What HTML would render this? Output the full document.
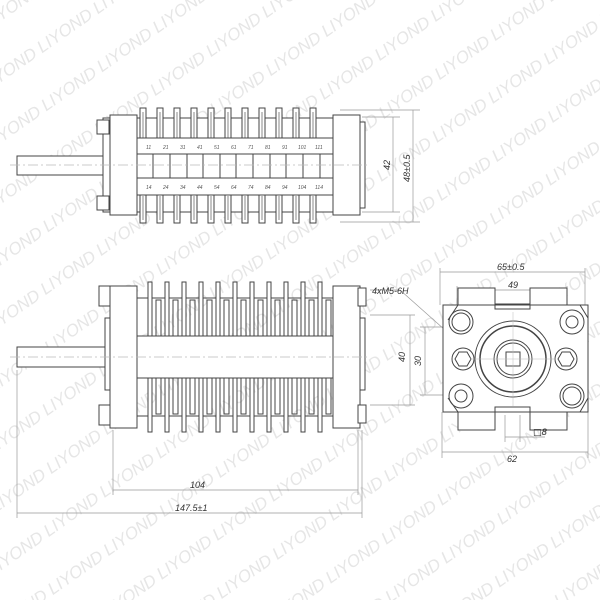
<!DOCTYPE html>
<html><head><meta charset="utf-8"><style>
html,body{margin:0;padding:0;background:#fff;width:600px;height:600px;overflow:hidden;}
svg{display:block;overflow:hidden;}
text{font-family:"Liberation Sans",sans-serif;font-style:italic;}
</style></head><body>
<svg width="600" height="600" viewBox="0 0 600 600" xmlns="http://www.w3.org/2000/svg">
<defs>
<clipPath id="pg"><rect x="0" y="0" width="600" height="600"/></clipPath>
<g id="finT" fill="none" stroke="#444" stroke-width="1">
<rect x="-3" y="108" width="6" height="32" fill="#fff"/>
<line x1="0" y1="112" x2="0" y2="138" stroke="#888"/>
</g>
<g id="finB" fill="none" stroke="#444" stroke-width="1">
<rect x="-3" y="193" width="6" height="30" fill="#fff"/>
<line x1="0" y1="196" x2="0" y2="220" stroke="#888"/>
</g>
<g id="finT2" fill="none" stroke="#444" stroke-width="1">
<rect x="-2" y="282" width="4" height="54" fill="#fff"/>
<path d="M6 336V300H11V336"/>
</g>
<g id="finB2" fill="none" stroke="#444" stroke-width="1">
<rect x="-2" y="378" width="4" height="54" fill="#fff"/>
<path d="M6 378V414H11V378"/>
</g>
<text id="wm" font-size="17" font-style="normal">LIYOND LIYOND LIYOND LIYOND LIYOND LIYOND LIYOND LIYOND LIYOND LIYOND LIYOND LIYOND LIYOND LIYOND LIYOND LIYOND LIYOND LIYOND LIYOND LIYOND LIYOND LIYOND</text>
</defs>

<!-- watermark -->
<g clip-path="url(#pg)">
<g fill="#e6e6e6" transform="rotate(-35 300 300)">
<use href="#wm" x="-450" y="-250"/><use href="#wm" x="-480" y="-200"/><use href="#wm" x="-450" y="-150"/><use href="#wm" x="-480" y="-100"/>
<use href="#wm" x="-450" y="-50"/><use href="#wm" x="-480" y="0"/><use href="#wm" x="-450" y="50"/><use href="#wm" x="-480" y="100"/>
<use href="#wm" x="-450" y="150"/><use href="#wm" x="-480" y="200"/><use href="#wm" x="-450" y="250"/><use href="#wm" x="-480" y="300"/>
<use href="#wm" x="-450" y="350"/><use href="#wm" x="-480" y="400"/><use href="#wm" x="-450" y="450"/><use href="#wm" x="-480" y="500"/>
<use href="#wm" x="-450" y="550"/><use href="#wm" x="-480" y="600"/><use href="#wm" x="-450" y="650"/><use href="#wm" x="-480" y="700"/>
<use href="#wm" x="-450" y="750"/><use href="#wm" x="-480" y="800"/><use href="#wm" x="-450" y="850"/>
</g>
</g>

<g fill="none" stroke="#444" stroke-width="1">
<!-- TOP VIEW -->
<rect x="17" y="156" width="86" height="19" fill="#fff"/>
<rect x="103" y="118" width="7" height="94" fill="#fff"/>
<rect x="97" y="120" width="12" height="14" fill="#fff"/><rect x="97" y="196" width="12" height="14" fill="#fff"/>
<rect x="110" y="115" width="27" height="100" fill="#fff"/>
<rect x="137" y="118" width="196" height="94" fill="#fff"/>
<use href="#finT" x="143"/><use href="#finT" x="160"/><use href="#finT" x="177"/><use href="#finT" x="194"/><use href="#finT" x="211"/><use href="#finT" x="228"/><use href="#finT" x="245"/><use href="#finT" x="262"/><use href="#finT" x="279"/><use href="#finT" x="296"/><use href="#finT" x="313"/>
<use href="#finB" x="143"/><use href="#finB" x="160"/><use href="#finB" x="177"/><use href="#finB" x="194"/><use href="#finB" x="211"/><use href="#finB" x="228"/><use href="#finB" x="245"/><use href="#finB" x="262"/><use href="#finB" x="279"/><use href="#finB" x="296"/><use href="#finB" x="313"/>
<rect x="137" y="138" width="196" height="16" fill="#fff"/>
<rect x="137" y="154" width="196" height="24" fill="#fff"/>
<rect x="137" y="178" width="196" height="17" fill="#fff"/>
<path d="M153 154V178M170 154V178M187 154V178M203 154V178M220 154V178M236 154V178M253 154V178M270 154V178M286 154V178M303 154V178M320 154V178"/>
<rect x="333" y="115" width="27" height="100" fill="#fff"/>
<rect x="360" y="122" width="5" height="86" fill="#fff"/>
<g stroke="#999" stroke-width="0.7">
<line x1="362" y1="117" x2="400" y2="117"/><line x1="362" y1="212" x2="400" y2="212"/>
<line x1="340" y1="110" x2="420" y2="110"/><line x1="340" y1="222" x2="420" y2="222"/>
<line x1="393" y1="117" x2="393" y2="212"/><line x1="413" y1="110" x2="413" y2="222"/>
</g>
<line x1="10" y1="165" x2="370" y2="165" stroke="#bbb" stroke-dasharray="10 3 2 3" stroke-width="0.7"/>

<!-- BOTTOM VIEW -->
<rect x="17" y="347" width="88" height="20" fill="#fff"/>
<rect x="105" y="318" width="8" height="72" fill="#fff"/>
<rect x="99" y="286" width="12" height="20" fill="#fff"/><rect x="99" y="405" width="12" height="20" fill="#fff"/>
<rect x="110" y="286" width="27" height="142" fill="#fff"/>
<line x1="137" y1="298" x2="333" y2="298"/><line x1="137" y1="416" x2="333" y2="416"/>
<use href="#finT2" x="150"/><use href="#finT2" x="167"/><use href="#finT2" x="184"/><use href="#finT2" x="201"/><use href="#finT2" x="218"/><use href="#finT2" x="235"/><use href="#finT2" x="252"/><use href="#finT2" x="269"/><use href="#finT2" x="286"/><use href="#finT2" x="303"/><use href="#finT2" x="320"/>
<use href="#finB2" x="150"/><use href="#finB2" x="167"/><use href="#finB2" x="184"/><use href="#finB2" x="201"/><use href="#finB2" x="218"/><use href="#finB2" x="235"/><use href="#finB2" x="252"/><use href="#finB2" x="269"/><use href="#finB2" x="286"/><use href="#finB2" x="303"/><use href="#finB2" x="320"/>
<rect x="137" y="336" width="196" height="42" fill="#fff"/>
<rect x="333" y="286" width="27" height="142" fill="#fff"/>
<rect x="360" y="318" width="5" height="72" fill="#fff"/>
<rect x="358" y="288" width="8" height="18" fill="#fff"/><rect x="358" y="405" width="8" height="18" fill="#fff"/>
<line x1="10" y1="357" x2="370" y2="357" stroke="#bbb" stroke-dasharray="10 3 2 3" stroke-width="0.7"/>
<g stroke="#999" stroke-width="0.7">
<line x1="17" y1="370" x2="17" y2="518"/><line x1="113" y1="430" x2="113" y2="495"/><line x1="358" y1="430" x2="358" y2="495"/><line x1="362" y1="430" x2="362" y2="518"/>
<line x1="113" y1="490" x2="358" y2="490"/><line x1="17" y1="513" x2="362" y2="513"/>
<line x1="370" y1="290" x2="400" y2="290"/><line x1="400" y1="290" x2="445" y2="330"/>
<line x1="370" y1="315" x2="415" y2="315"/><line x1="370" y1="405" x2="415" y2="405"/><line x1="410" y1="315" x2="410" y2="405"/>
<line x1="420" y1="327" x2="460" y2="327"/><line x1="420" y1="395" x2="460" y2="395"/><line x1="425" y1="327" x2="425" y2="395"/>
</g>

<!-- SIDE VIEW -->
<g stroke="#999" stroke-width="0.7">
<line x1="440" y1="272" x2="585" y2="272"/><line x1="440" y1="268" x2="440" y2="305"/><line x1="585" y1="268" x2="585" y2="305"/>
<line x1="457" y1="290" x2="567" y2="290"/><line x1="457" y1="286" x2="457" y2="305"/><line x1="567" y1="286" x2="567" y2="305"/>
<line x1="442" y1="412" x2="442" y2="458"/><line x1="588" y1="412" x2="588" y2="458"/><line x1="442" y1="452" x2="588" y2="452"/>
<line x1="505" y1="415" x2="505" y2="442"/><line x1="520" y1="415" x2="520" y2="442"/><line x1="505" y1="437" x2="545" y2="437"/>
</g>
<path d="M458 305V288H495V305M530 305V288H567V305M458 412V430H495V412M530 412V430H567V412" fill="#fff"/>
<path d="M443 305H588V412H443Z" fill="#fff"/>
<path d="M495 304H530V309H495ZM495 407H530V412H495Z"/>
<path d="M448 320L458 305M580 305L588 318M448 398L458 412M580 412L588 398"/>
<circle cx="513" cy="359" r="38"/><circle cx="513" cy="359" r="33" stroke-width="1.5"/>
<circle cx="513" cy="359" r="19"/><circle cx="513" cy="359" r="16"/>
<rect x="506" y="352" width="14" height="14"/>
<circle cx="461" cy="322" r="12"/><circle cx="461" cy="322" r="9"/>
<circle cx="572" cy="322" r="12"/><circle cx="572" cy="322" r="6"/>
<circle cx="461" cy="396" r="12"/><circle cx="461" cy="396" r="6"/>
<circle cx="572" cy="396" r="12"/><circle cx="572" cy="396" r="9"/>
<circle cx="463" cy="359" r="11"/><polygon points="455,359 459,352 467,352 471,359 467,366 459,366"/>
<circle cx="566" cy="359" r="11"/><polygon points="558,359 562,352 570,352 574,359 570,366 562,366"/>
<line x1="470" y1="359" x2="556" y2="359" stroke="#bbb" stroke-width="0.5"/>
<line x1="513" y1="312" x2="513" y2="406" stroke="#bbb" stroke-width="0.5"/>
</g>

<g fill="#333" font-size="9">
<text x="190" y="488">104</text>
<text x="175" y="511">147.5±1</text>
<text x="372" y="294">4xM5-6H</text>
<text x="497" y="270">65±0.5</text>
<text x="508" y="288">49</text>
<text x="507" y="462">62</text>
<text x="533" y="435" style="font-family:'DejaVu Sans',sans-serif">□8</text>
<text transform="translate(405 362) rotate(-90)">40</text>
<text transform="translate(421 366) rotate(-90)">30</text>
<text transform="translate(390 170) rotate(-90)">42</text>
<text transform="translate(410 182) rotate(-90)">48±0.5</text>
</g>
<g fill="#555" font-size="5" font-style="normal">
<text x="146" y="149">11</text><text x="163" y="149">21</text><text x="180" y="149">31</text><text x="197" y="149">41</text><text x="214" y="149">51</text><text x="231" y="149">61</text><text x="248" y="149">71</text><text x="265" y="149">81</text><text x="282" y="149">91</text><text x="298" y="149">101</text><text x="315" y="149">111</text>
<text x="146" y="189">14</text><text x="163" y="189">24</text><text x="180" y="189">34</text><text x="197" y="189">44</text><text x="214" y="189">54</text><text x="231" y="189">64</text><text x="248" y="189">74</text><text x="265" y="189">84</text><text x="282" y="189">94</text><text x="298" y="189">104</text><text x="315" y="189">114</text>
</g>
</svg>
</body></html>
